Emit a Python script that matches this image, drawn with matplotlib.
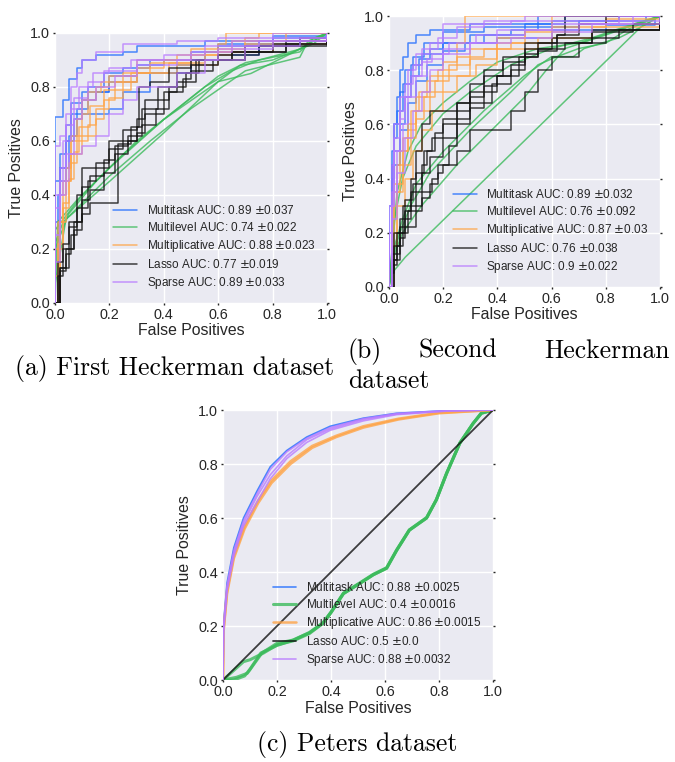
import matplotlib.pyplot as plt
from matplotlib.lines import Line2D

plt.style.use("seaborn-v0_8-darkgrid")
plt.rcParams['font.family'] = ['Liberation Sans', 'DejaVu Sans']

methods = ['Multitask', 'Multilevel', 'Multiplicative', 'Lasso', 'Sparse']
colors = ['#1f6cff', '#3cbb5c', '#ffa447', '#111111', '#b97cff']

# ---- First Heckerman dataset: one curve per fold, (fpr, tpr) vertices
a_auc = ['0.89', '0.74', '0.88', '0.77', '0.89']
a_std = ['0.037', '0.022', '0.023', '0.019', '0.033']
a_curves = {
    'Multitask': [
        [(0, 0), (0, .69), (.03, .69), (.03, .75), (.05, .83), (.08, .87), (.1, .9), (.15, .92), (.25, .93), (.3, .95), (.55, .97), (.8, .99), (1, 1)],
        [(0, 0), (0, .45), (.02, .55), (.04, .66), (.06, .7), (.1, .75), (.15, .78), (.2, .82), (.3, .85), (.45, .88), (.6, .92), (.75, .96), (.9, .98), (1, 1)],
        [(0, 0), (0, .3), (.02, .5), (.04, .6), (.07, .68), (.1, .7), (.15, .7), (.2, .72), (.25, .78), (.35, .85), (.47, .85), (.5, .9), (.6, .95), (.8, .97), (1, 1)],
        [(0, 0), (.01, .4), (.02, .5), (.05, .62), (.08, .72), (.12, .8), (.18, .85), (.25, .87), (.35, .9), (.5, .93), (.6, .96), (.8, .98), (1, 1)],
        [(0, 0), (0, .2), (.02, .45), (.04, .6), (.06, .74), (.1, .78), (.2, .84), (.3, .88), (.4, .9), (.55, .93), (.75, .97), (1, 1)],
    ],
    'Multilevel': [
        [(0, 0), (0, .2), (.05, .33), (.15, .45), (.3, .6), (.45, .72), (.6, .84), (.7, .89), (.9, .93), (.95, .98), (1, 1)],
        [(0, 0), (0, .27), (.1, .4), (.25, .55), (.4, .68), (.55, .8), (.65, .86), (.75, .9), (.9, .94), (1, 1)],
        [(0, 0), (0, .22), (.03, .3), (.2, .47), (.35, .6), (.5, .72), (.7, .86), (.9, .91), (.93, .97), (1, 1)],
        [(0, 0), (.01, .3), (.08, .38), (.2, .5), (.4, .68), (.6, .82), (.72, .85), (.88, .93), (1, 1)],
        [(0, 0), (0, .07), (.04, .31), (.2, .45), (.4, .63), (.6, .82), (.68, .88), (.8, .9), (.95, .96), (1, 1)],
    ],
    'Multiplicative': [
        [(0, 0), (0, .1), (.02, .3), (.04, .45), (.06, .6), (.08, .68), (.1, .75), (.15, .8), (.2, .84), (.3, .87), (.4, .9), (.5, .92), (.6, .96), (.63, 1), (1, 1)],
        [(0, 0), (.01, .22), (.03, .37), (.05, .52), (.08, .6), (.12, .66), (.15, .72), (.2, .76), (.25, .82), (.3, .85), (.45, .88), (.6, .93), (.8, .97), (1, 1)],
        [(0, 0), (.02, .4), (.04, .5), (.06, .62), (.1, .7), (.12, .78), (.17, .82), (.25, .85), (.35, .89), (.5, .94), (.7, .98), (.75, 1), (1, 1)],
        [(0, 0), (0, .2), (.03, .35), (.05, .46), (.07, .56), (.09, .65), (.13, .73), (.18, .79), (.28, .85), (.42, .89), (.55, .93), (.7, .96), (1, 1)],
        [(0, 0), (.01, .3), (.03, .45), (.06, .55), (.1, .62), (.15, .68), (.18, .75), (.22, .82), (.3, .9), (.45, .92), (.65, .97), (.85, 1), (1, 1)],
    ],
    'Lasso': [
        [(0, 0), (.02, 0), (.02, .12), (.04, .18), (.06, .25), (.08, .3), (.1, .38), (.13, .42), (.18, .48), (.22, .55), (.27, .6), (.3, .68), (.33, .75), (.38, .8), (.45, .85), (.5, .88), (.6, .92), (.75, .95), (.9, .98), (1, 1)],
        [(0, 0), (.01, .15), (.03, .22), (.05, .3), (.08, .35), (.12, .45), (.15, .5), (.2, .57), (.25, .6), (.3, .63), (.33, .7), (.4, .78), (.45, .82), (.52, .9), (.65, .93), (.8, .96), (1, 1)],
        [(0, 0), (.02, .13), (.04, .2), (.07, .27), (.1, .33), (.13, .37), (.23, .375), (.23, .59), (.28, .65), (.32, .72), (.38, .75), (.42, .8), (.48, .85), (.53, .9), (.7, .95), (1, 1)],
        [(0, 0), (.01, .1), (.03, .2), (.05, .28), (.08, .4), (.1, .5), (.15, .52), (.2, .6), (.25, .64), (.3, .65), (.31, .8), (.35, .82), (.42, .87), (.5, .9), (.65, .93), (.85, .97), (1, 1)],
        [(0, 0), (.02, .13), (.05, .2), (.07, .3), (.1, .43), (.13, .47), (.18, .53), (.22, .58), (.27, .62), (.32, .66), (.37, .72), (.42, .78), (.47, .83), (.5, .86), (.58, .9), (.7, .93), (.85, .96), (1, 1)],
    ],
    'Sparse': [
        [(0, 0), (0, .58), (.02, .62), (.04, .7), (.06, .8), (.08, .85), (.1, .9), (.15, .93), (.25, .96), (.45, .97), (.6, .98), (.8, 1), (1, 1)],
        [(0, 0), (0, .15), (.02, .4), (.04, .55), (.07, .68), (.1, .75), (.15, .8), (.22, .84), (.3, .88), (.45, .9), (.6, .94), (.8, .98), (1, 1)],
        [(0, 0), (0, .35), (.02, .45), (.05, .55), (.1, .58), (.15, .62), (.2, .7), (.25, .75), (.3, .8), (.45, .85), (.55, .9), (.7, .95), (.9, .98), (1, 1)],
        [(0, 0), (0, .4), (.03, .6), (.06, .72), (.09, .8), (.14, .85), (.2, .87), (.28, .9), (.4, .92), (.55, .95), (.75, .97), (1, 1)],
        [(0, 0), (0, .25), (.02, .5), (.04, .66), (.07, .76), (.12, .82), (.18, .86), (.3, .9), (.5, .93), (.65, .97), (1, 1)],
    ],
}

# ---- Second Heckerman dataset
b_auc = ['0.89', '0.76', '0.87', '0.76', '0.9']
b_std = ['0.032', '0.092', '0.03', '0.038', '0.022']
b_curves = {
    'Multitask': [
        [(0, 0), (0, .3), (.01, .5), (.02, .6), (.03, .7), (.04, .8), (.05, .85), (.07, .9), (.1, .93), (.15, .95), (.3, .97), (.6, .98), (.85, 1), (1, 1)],
        [(0, 0), (.01, .35), (.02, .5), (.04, .6), (.06, .7), (.08, .78), (.11, .84), (.15, .88), (.2, .9), (.35, .93), (.5, .96), (.7, .98), (.95, 1), (1, 1)],
        [(0, 0), (.01, .4), (.02, .55), (.03, .65), (.05, .75), (.08, .82), (.12, .86), (.2, .9), (.3, .93), (.45, .95), (.55, 1), (1, 1)],
        [(0, 0), (0, .2), (.02, .45), (.04, .58), (.07, .68), (.1, .76), (.14, .82), (.2, .87), (.28, .9), (.4, .92), (.6, .95), (.8, .965), (.98, .965), (.98, 1), (1, 1)],
        [(0, 0), (.01, .45), (.02, .6), (.04, .72), (.06, .8), (.09, .85), (.13, .9), (.2, .94), (.35, .96), (.5, .97), (.65, 1), (1, 1)],
    ],
    'Multilevel': [
        [(0, 0), (.01, .05), (.06, .11), (.93, .96), (1, 1)],
        [(0, 0), (.01, .1), (.04, .2), (.08, .3), (.15, .42), (.3, .58), (.45, .72), (.55, .82), (.62, .85), (.7, .88), (.8, .9), (.88, .95), (1, 1)],
        [(0, 0), (.02, .25), (.05, .4), (.1, .52), (.2, .64), (.3, .72), (.45, .82), (.6, .88), (.75, .92), (.9, .97), (1, 1)],
        [(0, 0), (.02, .15), (.05, .25), (.1, .38), (.2, .5), (.35, .65), (.5, .78), (.6, .85), (.68, .85), (.72, .88), (.85, .92), (.95, .97), (1, 1)],
        [(0, 0), (.03, .35), (.07, .5), (.12, .6), (.2, .68), (.3, .76), (.4, .83), (.55, .88), (.7, .9), (.85, .95), (1, 1)],
        [(0, 0), (.02, .12), (.05, .2), (.12, .3), (.25, .45), (.4, .6), (.5, .7), (.58, .8), (.65, .88), (.8, .93), (1, 1)],
    ],
    'Multiplicative': [
        [(0, 0), (.01, .2), (.03, .35), (.05, .45), (.08, .55), (.1, .62), (.13, .7), (.17, .76), (.22, .82), (.3, .88), (.4, .9), (.5, .94), (.7, .97), (1, 1)],
        [(0, 0), (.01, .15), (.03, .3), (.06, .4), (.09, .5), (.12, .58), (.16, .65), (.2, .72), (.25, .78), (.32, .82), (.4, .88), (.55, .92), (.75, .96), (1, 1)],
        [(0, 0), (.01, .3), (.03, .45), (.05, .55), (.08, .65), (.11, .72), (.15, .78), (.2, .83), (.25, .9), (.28, .92), (.28, 1), (1, 1)],
        [(0, 0), (.02, .35), (.04, .5), (.07, .6), (.1, .7), (.14, .76), (.18, .8), (.25, .85), (.35, .88), (.45, .9), (.6, .96), (.8, .99), (1, 1)],
        [(0, 0), (.01, .25), (.02, .38), (.05, .5), (.07, .58), (.1, .65), (.15, .72), (.2, .78), (.3, .84), (.4, .92), (.5, .95), (.6, 1), (1, 1)],
    ],
    'Lasso': [
        [(0, 0), (.01, .05), (.02, .15), (.04, .22), (.06, .28), (.08, .35), (.1, .42), (.13, .5), (.16, .55), (.2, .6), (.25, .65), (.3, .7), (.35, .74), (.4, .78), (.45, .82), (.5, .86), (.55, .9), (.62, .93), (.65, 1), (1, 1)],
        [(0, 0), (.02, .1), (.04, .18), (.06, .22), (.1, .28), (.12, .33), (.15, .38), (.18, .42), (.2, .45), (.25, .5), (.3, .55), (.3, .58), (.4, .58), (.45, .65), (.5, .72), (.55, .8), (.6, .85), (.7, .9), (.8, .95), (1, 1)],
        [(0, 0), (.01, .1), (.03, .2), (.05, .3), (.08, .4), (.1, .5), (.12, .6), (.15, .65), (.2, .65), (.25, .68), (.3, .72), (.35, .78), (.42, .83), (.5, .88), (.6, .9), (.75, .95), (1, 1)],
        [(0, 0), (.01, .08), (.03, .15), (.05, .2), (.07, .28), (.1, .35), (.12, .42), (.15, .48), (.2, .55), (.25, .62), (.3, .68), (.38, .75), (.45, .8), (.5, .85), (.55, .88), (.65, .9), (.75, .92), (.85, .95), (1, 1)],
        [(0, 0), (.02, .12), (.04, .2), (.06, .25), (.08, .3), (.12, .35), (.16, .4), (.18, .45), (.22, .52), (.25, .6), (.3, .66), (.35, .72), (.4, .78), (.48, .85), (.55, .87), (.62, .93), (.7, .97), (.8, 1), (1, 1)],
        [(0, 0), (.01, .12), (.02, .2), (.04, .25), (.06, .32), (.09, .38), (.12, .45), (.14, .5), (.17, .57), (.2, .62), (.25, .68), (.3, .75), (.35, .8), (.42, .85), (.5, .9), (.6, .92), (.75, .94), (.9, .97), (1, 1)],
    ],
    'Sparse': [
        [(0, 0), (0, .2), (.01, .45), (.02, .55), (.04, .65), (.06, .75), (.09, .82), (.12, .88), (.18, .92), (.25, .96), (.35, .98), (.5, 1), (1, 1)],
        [(0, 0), (.01, .35), (.03, .5), (.05, .6), (.07, .7), (.1, .78), (.14, .84), (.2, .88), (.3, .9), (.45, .92), (.6, .94), (.75, .97), (1, 1)],
        [(0, 0), (.01, .3), (.02, .5), (.04, .62), (.06, .7), (.08, .78), (.12, .83), (.16, .86), (.22, .9), (.32, .93), (.5, .95), (.7, .97), (.9, 1), (1, 1)],
        [(0, 0), (0, .3), (.02, .6), (.04, .7), (.07, .8), (.1, .86), (.15, .9), (.2, .97), (.45, .98), (1, 1)],
        [(0, 0), (.01, .25), (.03, .42), (.06, .55), (.09, .65), (.12, .72), (.15, .8), (.2, .86), (.3, .9), (.4, .95), (.6, .97), (.85, 1), (1, 1)],
    ],
}

# ---- Peters dataset
c_auc = ['0.88', '0.4', '0.86', '0.5', '0.88']
c_std = ['0.0025', '0.0016', '0.0015', '0.0', '0.0032']
c_curves = {
    'Multitask': [
        [(0, 0), (.002, .21), (.015, .36), (.04, .49), (.076, .6), (.126, .7), (.175, .79), (.236, .85), (.31, .9), (.397, .94), (.52, .97), (.643, .988), (.83, .998), (1, 1)],
    ],
    'Multilevel': [
        [(0, 0), (.05, .01), (.09, .025), (.144, .1), (.2, .136), (.26, .148), (.32, .175), (.37, .21), (.4, .25), (.446, .32), (.507, .358), (.557, .39), (.606, .414), (.643, .48), (.69, .555), (.754, .6), (.79, .667), (.828, .765), (.877, .877), (.926, .95), (.957, .988), (1, 1)],
        [(0, 0), (.076, .068), (.1, .075), (.15, .1), (.2, .13), (.26, .145), (.32, .172), (.37, .21), (.4, .25), (.446, .32), (.507, .358), (.557, .39), (.606, .414), (.643, .48), (.69, .555), (.754, .6), (.79, .667), (.828, .765), (.877, .877), (.926, .95), (.957, .988), (1, 1)],
        [(0, 0), (.04, 0), (.08, .015), (.1, .04), (.14, .1), (.2, .128), (.26, .148), (.32, .176), (.37, .212), (.4, .252), (.446, .322), (.507, .36), (.557, .392), (.606, .416), (.643, .482), (.69, .556), (.754, .602), (.79, .668), (.828, .766), (.877, .878), (.926, .95), (.957, .99), (1, 1)],
    ],
    'Multiplicative': [
        [(0, 0), (.002, .18), (.015, .32), (.04, .45), (.08, .56), (.13, .655), (.18, .73), (.25, .8), (.33, .86), (.42, .9), (.52, .935), (.65, .965), (.8, .988), (1, 1)],
        [(0, 0), (.002, .185), (.015, .33), (.04, .46), (.08, .57), (.13, .665), (.18, .74), (.25, .81), (.33, .867), (.42, .905), (.52, .94), (.65, .968), (.8, .99), (1, 1)],
    ],
    'Lasso': [
        [(0, 0), (1, 1)],
    ],
    'Sparse': [
        [(0, 0), (.002, .2), (.015, .35), (.04, .48), (.076, .59), (.126, .69), (.175, .78), (.236, .845), (.31, .895), (.397, .935), (.52, .968), (.643, .987), (.83, .998), (1, 1)],
        [(0, 0), (.002, .19), (.015, .34), (.04, .47), (.076, .58), (.126, .68), (.175, .76), (.236, .83), (.31, .89), (.397, .93), (.52, .965), (.643, .985), (.83, .997), (1, 1)],
        [(0, 0), (.002, .18), (.015, .33), (.04, .46), (.076, .57), (.126, .66), (.175, .745), (.236, .82), (.31, .88), (.397, .925), (.52, .96), (.643, .983), (.83, .996), (1, 1)],
    ],
}

fig = plt.figure(figsize=(6.75, 7.62), dpi=100)
ax_a = fig.add_axes([0.0815, 0.6024, 0.403, 0.3543])
ax_b = fig.add_axes([0.5763, 0.6234, 0.4015, 0.3556])
ax_c = fig.add_axes([0.3304, 0.1076, 0.400, 0.3543])


def roc_panel(ax, curves, auc, std, steps=True, widths=None):
    handles = []
    for i, m in enumerate(methods):
        lw = widths[i] if widths else 1.1
        ds = 'default' if (m == 'Multilevel' or not steps) else 'steps-post'
        for pts in curves[m]:
            xs = [p[0] for p in pts]
            ys = [p[1] for p in pts]
            ax.plot(xs, ys, color=colors[i], lw=lw, alpha=0.8, drawstyle=ds)
        handles.append(Line2D([], [], color=colors[i], lw=lw, alpha=0.8))
    labels = ['%s AUC: %s $\\pm$%s' % (m, auc[i], std[i]) for i, m in enumerate(methods)]
    ax.legend(handles, labels, loc='lower right', frameon=False, fontsize=8.5,
              labelspacing=0.35, handlelength=2.0, borderaxespad=0.6)
    ax.set_xlim(0, 1)
    ax.set_ylim(0, 1)
    ax.set_xticks([0, .2, .4, .6, .8, 1.0])
    ax.set_yticks([0, .2, .4, .6, .8, 1.0])
    ax.set_facecolor('#EAEAF2')
    ax.grid(True, color='white', lw=1)
    for s in ax.spines.values():
        s.set_visible(False)
    ax.tick_params(labelsize=10.4, colors='#262626', length=1.2, width=1,
                   left=True, bottom=True, right=True, pad=2.5)
    ax.set_xlabel('False Positives', fontsize=11.4, color='#262626', labelpad=1)
    ax.set_ylabel('True Positives', fontsize=11.4, color='#262626', labelpad=4)


roc_panel(ax_a, a_curves, a_auc, a_std)
roc_panel(ax_b, b_curves, b_auc, b_std)
roc_panel(ax_c, c_curves, c_auc, c_std, steps=False, widths=[1.2, 2.2, 1.8, 1.3, 1.2])

cap = dict(family='cmr10', fontsize=18.5, color='black')
fig.text(15 / 675, 1 - 368 / 762, '(a) First Heckerman dataset', ha='left', va='center', **cap)
fig.text(348 / 675, 1 - 351 / 762, '(b)', ha='left', va='center', **cap)
fig.text(458 / 675, 1 - 351 / 762, 'Second', ha='center', va='center', **cap)
fig.text(670 / 675, 1 - 351 / 762, 'Heckerman', ha='right', va='center', **cap)
fig.text(348 / 675, 1 - 381 / 762, 'dataset', ha='left', va='center', **cap)
fig.text(357 / 675, 1 - 745 / 762, '(c) Peters dataset', ha='center', va='center', **cap)

fig.savefig('out.png', dpi=100, facecolor='white')
